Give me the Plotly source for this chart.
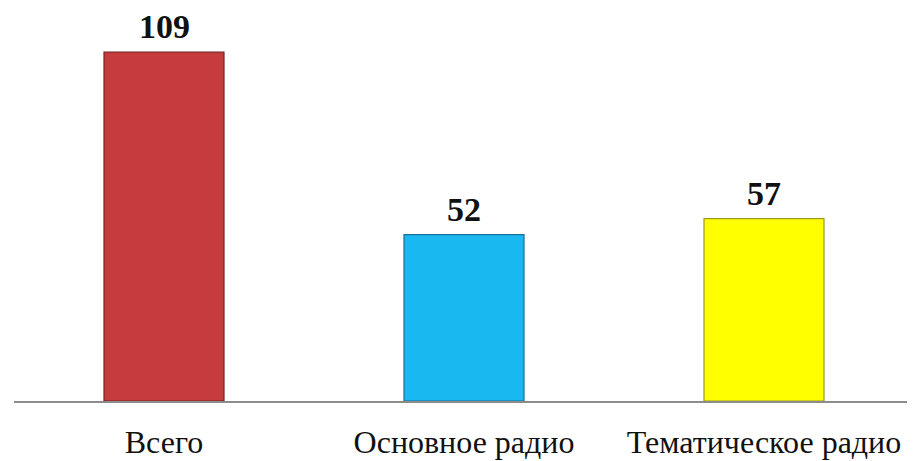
import plotly.graph_objects as go

categories = ["Всего", "Основное радио", "Тематическое радио"]
values = [109, 52, 57]
colors = ["#c63c3c", "#1ab8f0", "#ffff00"]
line_colors = ["#7a2020", "#1a6f98", "#9a9a20"]

fig = go.Figure()
fig.add_trace(go.Bar(
    x=categories, y=values,
    marker=dict(color=colors, line=dict(color=line_colors, width=1.2)),
    width=0.4,
    hoverinfo="skip",
))

for c, v in zip(categories, values):
    fig.add_annotation(
        x=c, y=v, text=f"<b>{v}</b>", showarrow=False,
        yanchor="bottom", yshift=5,
        font=dict(family="Liberation Serif, Times New Roman, serif", size=34, color="#111111"),
    )

# page body has an 8px default margin, so the figure is sized/offset to compensate
fig.update_layout(
    width=907, height=453,
    margin=dict(l=6, r=1, t=9, b=60),
    paper_bgcolor="white", plot_bgcolor="white",
    showlegend=False,
    bargap=0.6,
    xaxis=dict(
        range=[-0.5, 2.5], showline=True, linecolor="#8c8c8c", linewidth=1.5,
        ticks="", showgrid=False, zeroline=False, automargin=False,
        tickfont=dict(family="Liberation Serif, Times New Roman, serif", size=32, color="#111111"),
        ticklabelstandoff=12,
    ),
    yaxis=dict(range=[0, 120], visible=False, showgrid=False, zeroline=False,
               automargin=False),
)

fig.write_html("out.html")
